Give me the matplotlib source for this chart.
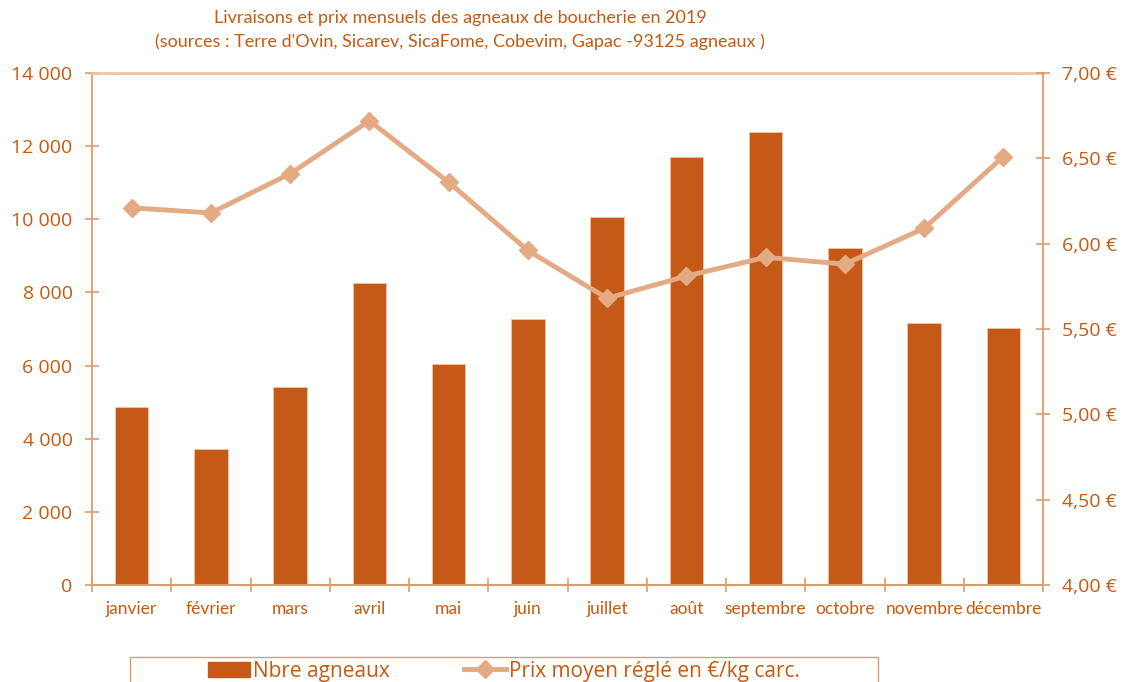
import matplotlib
matplotlib.use("Agg")
import matplotlib.pyplot as plt
from matplotlib.patches import Rectangle
from matplotlib.lines import Line2D
import numpy as np

months = ["janvier", "février", "mars", "avril", "mai", "juin", "juillet",
          "août", "septembre", "octobre", "novembre", "décembre"]
nb_agneaux = [4875, 3727, 5406, 8266, 6043, 7282, 10054, 11695, 12378, 9223, 7156, 7036]
prix = [6.21, 6.18, 6.41, 6.72, 6.36, 5.96, 5.68, 5.81, 5.92, 5.88, 6.09, 6.51]
left_ticks = [0, 2000, 4000, 6000, 8000, 10000, 12000, 14000]
left_labels = ["0", "2 000", "4 000", "6 000", "8 000", "10 000", "12 000", "14 000"]
right_ticks = [4.0, 4.5, 5.0, 5.5, 6.0, 6.5, 7.0]
right_labels = ["4,00 €", "4,50 €", "5,00 €", "5,50 €", "6,00 €", "6,50 €", "7,00 €"]
title = ("Livraisons et prix mensuels des agneaux de boucherie en 2019\n"
         "(sources : Terre d'Ovin, Sicarev, SicaFome, Cobevim, Gapac -93125 agneaux )")
legend_labels = ["Nbre agneaux", "Prix moyen réglé en €/kg carc."]

BAR = "#C55A18"
LINE = "#E4AA84"
TXT = "#C55A11"
AXC = "#E09B6C"
FONT = ["Lato", "DejaVu Sans"]
plt.rcParams["font.family"] = FONT

fig = plt.figure(figsize=(11.3, 6.82), dpi=100)
fig.patch.set_facecolor("white")
ax = fig.add_axes([92/1130, 1-585/682, (1043-92)/1130, (585-73)/682])
ax2 = ax.twinx()

x = np.arange(len(months))
ax.bar(x, nb_agneaux, width=0.42, color=BAR, edgecolor="#F2C4A2", linewidth=0.6, zorder=2)
ax.set_xlim(-0.5, len(months) - 0.5)
ax.set_ylim(0, 14000)
ax.set_yticks(left_ticks)
ax.set_yticklabels(left_labels)
ax.set_xticks(x)
ax.set_xticklabels(months)
ax.set_xticks(np.arange(-0.5, len(months), 1.0), minor=True)

ax2.plot(x, prix, color=LINE, linewidth=3.5, marker="D", markersize=9,
         markeredgecolor=LINE, zorder=3)
ax2.set_ylim(4.0, 7.0)
ax2.set_yticks(right_ticks)
ax2.set_yticklabels(right_labels)
ax2.set_zorder(ax.get_zorder() + 1)
ax2.patch.set_visible(False)

for a in (ax, ax2):
    for s in ("top", "left", "right", "bottom"):
        a.spines[s].set_visible(False)

ax.spines["left"].set_visible(True)
ax.spines["left"].set_color(AXC)
ax.spines["left"].set_linewidth(1.3)
ax.spines["bottom"].set_visible(True)
ax.spines["bottom"].set_color(AXC)
ax.spines["bottom"].set_linewidth(1.5)
ax.spines["top"].set_visible(True)
ax.spines["top"].set_color("#F0C3A2")
ax.spines["top"].set_linewidth(2.0)
ax2.spines["right"].set_visible(True)
ax2.spines["right"].set_color(AXC)
ax2.spines["right"].set_linewidth(1.3)

ax.tick_params(axis="y", direction="inout", length=10, width=1.2, color=AXC,
               labelcolor=TXT, labelsize=14, pad=9)
ax2.tick_params(axis="y", direction="inout", length=10, width=1.2, color=AXC,
                labelcolor=TXT, labelsize=14, pad=9)
ax.tick_params(axis="x", which="major", length=0, labelcolor=TXT, labelsize=12.5, pad=11.5)
ax.tick_params(axis="x", which="minor", direction="inout", length=10, width=1.2, color=AXC)
for lab in ax.get_yticklabels() + ax2.get_yticklabels():
    lab.set_fontfamily(["Open Sans", "DejaVu Sans"])

fig.text(460/1130, 1-30/682, title, ha="center", va="center", color=TXT,
         fontsize=13, linespacing=1.5)

# legend frame (partially cut at bottom like the reference)
fig.patches.append(Rectangle((130/1130, -0.05), 748/1130, 0.05 + (682-657)/682,
                             transform=fig.transFigure, fill=False,
                             edgecolor=AXC, linewidth=1.0))
h1 = Rectangle((0, 0), 1, 1, facecolor=BAR, edgecolor=BAR)
h2 = Line2D([], [], color=LINE, linewidth=3.5, marker="D", markersize=9)
leg = fig.legend([h1, h2], legend_labels, loc="center", ncol=2,
                 bbox_to_anchor=(504/1130, 1-671/682), frameon=False,
                 labelcolor=TXT, handlelength=2.0, handletextpad=0.15,
                 columnspacing=3.6, prop={"family": ["Open Sans", "DejaVu Sans"], "size": 15})

fig.savefig("out.png", dpi=100, facecolor="white")
